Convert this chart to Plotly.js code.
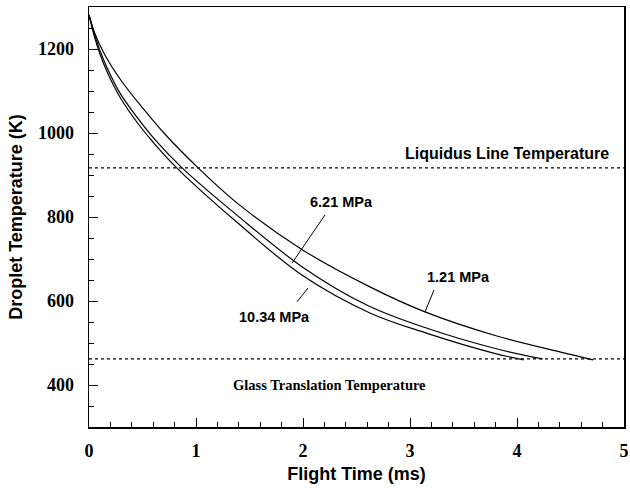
<!DOCTYPE html>
<html>
<head>
<meta charset="utf-8">
<script src="https://cdn.plot.ly/plotly-3.0.1.min.js"></script>
<style>html,body{margin:0;padding:0;background:#fff;}#chart{width:630px;height:488px;}</style>
</head>
<body>
<div id="chart"></div>
<script>
// Flight time (ms) and droplet temperature (K) for each pressure
var t121 = [0, 0.05, 0.15, 0.3, 0.5, 0.7, 1.02, 1.4, 2.0, 2.63, 3.14, 3.78, 4.40, 4.71];
var T121 = [1281, 1240, 1185, 1125, 1060, 1000, 917, 830, 721, 633, 574, 519, 479, 460];

var t621 = [0, 0.05, 0.10, 0.17, 0.29, 0.45, 0.6, 0.87, 1.38, 2.0, 2.6, 3.16, 3.78, 4.24];
var T621 = [1281, 1236, 1198, 1155, 1095, 1037, 989, 917, 805, 680, 590, 535, 488, 462];

var t1034 = [0, 0.05, 0.10, 0.17, 0.29, 0.45, 0.6, 0.82, 1.38, 2.0, 2.63, 3.16, 3.78, 4.06];
var T1034 = [1281, 1230, 1190, 1145, 1085, 1025, 978, 917, 788, 660, 571, 523, 476, 460];

// Reference temperatures (K)
var liquidusT = 917;
var glassT = 462;
var refX = [0, 5];

var xTickVals = [0, 1, 2, 3, 4, 5];
var yTickVals = [400, 600, 800, 1000, 1200];

var curveLine = {color: '#000', width: 1.2, shape: 'spline', smoothing: 1};
var dotLine = {color: '#000', width: 1.2, dash: 'dot'};

var traces = [
  {x: t121, y: T121, mode: 'lines', line: curveLine, name: '1.21 MPa'},
  {x: t621, y: T621, mode: 'lines', line: curveLine, name: '6.21 MPa'},
  {x: t1034, y: T1034, mode: 'lines', line: curveLine, name: '10.34 MPa'},
  {x: refX, y: [liquidusT, liquidusT], mode: 'lines', line: dotLine, name: 'Liquidus'},
  {x: refX, y: [glassT, glassT], mode: 'lines', line: dotLine, name: 'Glass'}
];

var labFont = {family: 'Liberation Sans, Arial, sans-serif', size: 14.5, color: '#000', weight: 'bold'};

var layout = {
  width: 630, height: 488,
  margin: {l: 89, r: 6, t: 7, b: 61},
  paper_bgcolor: '#fff', plot_bgcolor: '#fff',
  showlegend: false,
  xaxis: {
    range: [0, 5], tickvals: xTickVals, ticks: 'inside', ticklen: 9, tickwidth: 1, tickcolor: '#000',
    minor: {dtick: 0.2, ticks: 'inside', ticklen: 5, tickwidth: 1, tickcolor: '#000'},
    showline: true, linecolor: '#000', linewidth: 1.5, mirror: true, showgrid: false, zeroline: false,
    tickfont: {family: 'Liberation Serif, Times New Roman, serif', size: 18, color: '#000', weight: 'bold'},
    ticklabelstandoff: 7,
    title: {text: 'Flight Time (ms)', font: {family: 'Liberation Sans, Arial, sans-serif', size: 18, color: '#000', weight: 'bold'}, standoff: 7}
  },
  yaxis: {
    range: [300, 1300], tickvals: yTickVals, ticks: 'inside', ticklen: 9, tickwidth: 1, tickcolor: '#000',
    minor: {dtick: 50, ticks: 'inside', ticklen: 5, tickwidth: 1, tickcolor: '#000'},
    showline: true, linecolor: '#000', linewidth: 1.5, mirror: true, showgrid: false, zeroline: false,
    tickfont: {family: 'Liberation Serif, Times New Roman, serif', size: 18, color: '#000', weight: 'bold'},
    ticklabelstandoff: 10,
    title: {text: 'Droplet Temperature (K)', font: {family: 'Liberation Sans, Arial, sans-serif', size: 18, color: '#000', weight: 'bold'}, standoff: 10}
  },
  annotations: [
    {x: 3.907, y: 952, text: 'Liquidus Line Temperature', showarrow: false, font: {family: 'Liberation Sans, Arial, sans-serif', size: 16, color: '#000', weight: 'bold'}},
    {x: 2.25, y: 400, text: 'Glass Translation Temperature', showarrow: false, font: {family: 'Liberation Serif, Times New Roman, serif', size: 14.5, color: '#000', weight: 'bold'}},
    {x: 2.364, y: 836, text: '6.21 MPa', showarrow: false, font: labFont},
    {x: 1.738, y: 562, text: '10.34 MPa', showarrow: false, font: labFont},
    {x: 3.449, y: 657, text: '1.21 MPa', showarrow: false, font: labFont}
  ],
  shapes: [
    {type: 'line', x0: 2.206, y0: 805, x1: 1.897, y1: 690, line: {color: '#000', width: 1}},
    {type: 'line', x0: 2.047, y0: 631, x1: 1.944, y1: 598, line: {color: '#000', width: 1}},
    {type: 'line', x0: 3.224, y0: 626, x1: 3.14, y1: 574, line: {color: '#000', width: 1}}
  ]
};

Plotly.newPlot('chart', traces, layout, {displayModeBar: false, staticPlot: true});
</script>
</body>
</html>
